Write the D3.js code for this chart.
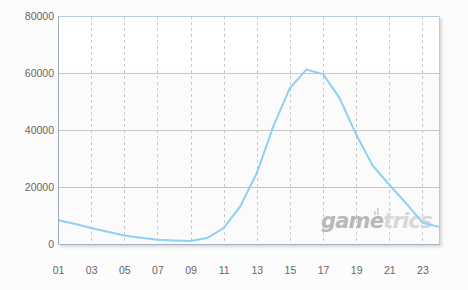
<!DOCTYPE html>
<html>
<head>
<meta charset="utf-8">
<script src="https://cdn.jsdelivr.net/npm/d3@7"></script>
<style>
  body { margin: 0; background: #fcfcfc; }
  svg { display: block; }
  .tick text { font-family: "Liberation Sans", Arial, sans-serif; font-size: 10.5px; fill: #666; }
</style>
</head>
<body>
<div class="vis"></div>
<script>
const hours = d3.range(1, 25);
const visitors = [8300, 7100, 5600, 4300, 3000, 2200, 1500, 1250, 1050, 2100, 5600, 13200,
  24900, 41300, 54700, 61200, 59600, 51200, 38400, 27500, 20800, 14400, 7500, 6000];
const xTicks = [1, 3, 5, 7, 9, 11, 13, 15, 17, 19, 21, 23];
const yTicks = [0, 20000, 40000, 60000, 80000];

const width = 468, height = 290;
const margin = { top: 16, right: 29, bottom: 46, left: 58 };
const innerW = width - margin.left - margin.right;
const innerH = height - margin.top - margin.bottom;

const data = hours.map((h, i) => ({ hour: h, value: visitors[i] }));

const svg = d3.select(".vis").append("svg")
  .attr("width", width)
  .attr("height", height);

const defs = svg.append("defs");
const grad = defs.append("linearGradient").attr("id", "bg")
  .attr("x1", 0).attr("y1", 0).attr("x2", 0).attr("y2", 1);
grad.append("stop").attr("offset", "0%").attr("stop-color", "#ffffff");
grad.append("stop").attr("offset", "22%").attr("stop-color", "#ffffff");
grad.append("stop").attr("offset", "27%").attr("stop-color", "#fbfbfb");
grad.append("stop").attr("offset", "100%").attr("stop-color", "#fbfbfb");
const blur = defs.append("filter").attr("id", "shadow")
  .attr("x", "-5%").attr("y", "-5%").attr("width", "115%").attr("height", "115%");
blur.append("feGaussianBlur").attr("stdDeviation", 1.5);

const g = svg.append("g")
  .attr("transform", `translate(${margin.left},${margin.top})`);

const x = d3.scaleLinear().domain([1, 24]).range([0, innerW]);
const y = d3.scaleLinear().domain([0, 80000]).range([innerH, 0]);

// shadow + background
g.append("rect")
  .attr("x", 2).attr("y", 2)
  .attr("width", innerW + 1).attr("height", innerH + 1)
  .attr("fill", "#d8d8d8")
  .attr("filter", "url(#shadow)");
g.append("rect")
  .attr("width", innerW).attr("height", innerH)
  .attr("fill", "url(#bg)");

// horizontal grid
g.append("g")
  .selectAll("line")
  .data(yTicks.filter((d) => d > 0 && d < 80000))
  .join("line")
  .attr("x1", 0).attr("x2", innerW)
  .attr("y1", (d) => Math.round(y(d)) + 0.5)
  .attr("y2", (d) => Math.round(y(d)) + 0.5)
  .attr("stroke", "#c6c6c6");

// vertical dashed grid
g.append("g")
  .selectAll("line")
  .data(xTicks.filter((d) => d > 1))
  .join("line")
  .attr("x1", (d) => Math.round(x(d)) + 0.5)
  .attr("x2", (d) => Math.round(x(d)) + 0.5)
  .attr("y1", 0).attr("y2", innerH)
  .attr("stroke", "#c8c8c8")
  .attr("stroke-dasharray", "3,3");

// watermark
const wm = g.append("text")
  .attr("x", 263)
  .attr("y", 212)
  .attr("font-family", "'DejaVu Sans', sans-serif")
  .attr("font-size", 21)
  .attr("font-weight", "bold")
  .attr("font-style", "italic")
  .attr("letter-spacing", -0.8);
wm.append("tspan").attr("fill", "#b8b8b8").text("game");
wm.append("tspan").attr("fill", "#d8d8d8").text("trics");
g.append("g").selectAll("rect")
  .data([0, 3])
  .join("rect")
  .attr("x", (d) => 316 + d)
  .attr("y", (d) => 194 + (d ? -2 : 1))
  .attr("width", 1.6)
  .attr("height", (d) => (d ? 7 : 4))
  .attr("fill", "#cccccc");

// top and right border
g.append("path")
  .attr("d", `M0,0.5H${innerW + 0.5}V${innerH}`)
  .attr("fill", "none")
  .attr("stroke", "#b6cde0");

// line
const line = d3.line()
  .x((d) => x(d.hour))
  .y((d) => y(d.value));
g.append("path")
  .datum(data)
  .attr("fill", "none")
  .attr("stroke", "#8ed1f2")
  .attr("stroke-width", 2)
  .attr("d", line);

// axes
const yAxis = g.append("g")
  .call(d3.axisLeft(y).tickValues(yTicks).tickSize(0).tickPadding(4).tickFormat(d3.format("d")));
yAxis.select(".domain").attr("stroke", "#9aabbd");

const xAxis = g.append("g")
  .attr("transform", `translate(0,${innerH})`)
  .call(d3.axisBottom(x).tickValues(xTicks).tickSize(0).tickPadding(23)
    .tickFormat((d) => String(d).padStart(2, "0")));
xAxis.select(".domain").attr("stroke", "#9fb2c4");
</script>
</body>
</html>
